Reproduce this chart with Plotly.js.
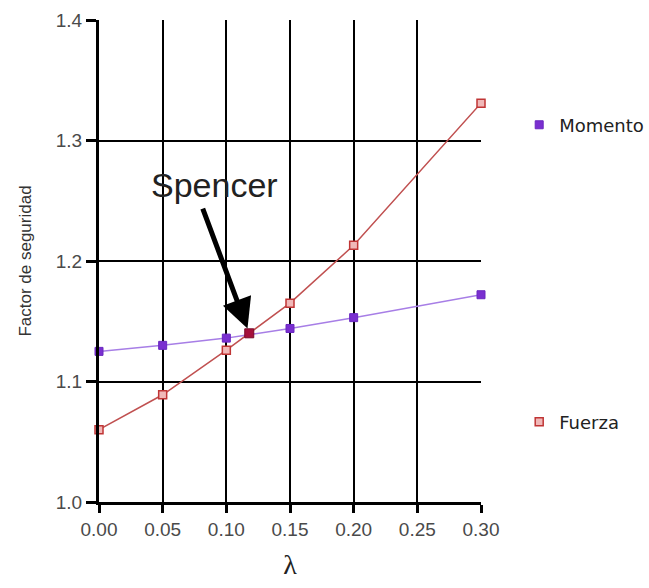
<!DOCTYPE html>
<html>
<head>
<meta charset="utf-8">
<script src="https://cdn.plot.ly/plotly-3.0.1.min.js"></script>
<style>html,body{margin:0;padding:0;background:#fff;}#chart{width:649px;height:588px;}</style>
</head>
<body>
<div id="chart"></div>
<script>
const lambdaValues = [0.00, 0.05, 0.10, 0.15, 0.20, 0.30];
const momentoFS = [1.125, 1.130, 1.136, 1.144, 1.153, 1.172];
const fuerzaFS = [1.060, 1.089, 1.126, 1.165, 1.213, 1.331];
const spencerLambda = [0.118];
const spencerFS = [1.140];
const xTickVals = [0.00, 0.05, 0.10, 0.15, 0.20, 0.25, 0.30];
const xTickText = ['0.00', '0.05', '0.10', '0.15', '0.20', '0.25', '0.30'];
const yTickVals = [1.0, 1.1, 1.2, 1.3, 1.4];
const yTickText = ['1.0', '1.1', '1.2', '1.3', '1.4'];

const momentoMarker = {symbol: 'square', size: 8, color: '#7a2fd0', line: {color: '#6a28c0', width: 1}};
const fuerzaMarker = {symbol: 'square', size: 8, color: '#f0b8b8', line: {color: '#c03535', width: 1.5}};

const traces = [
  {x: lambdaValues, y: momentoFS, mode: 'lines+markers', name: 'Momento', showlegend: false, cliponaxis: false,
   line: {color: '#a77ee6', width: 1.5}, marker: momentoMarker},
  {x: lambdaValues, y: fuerzaFS, mode: 'lines+markers', name: 'Fuerza', showlegend: false, cliponaxis: false,
   line: {color: '#c05050', width: 1.5}, marker: fuerzaMarker},
  {x: spencerLambda, y: spencerFS, mode: 'markers', name: 'Spencer', showlegend: false, cliponaxis: false,
   marker: {symbol: 'square', size: 9, color: '#a5103c', line: {color: '#7a0a2a', width: 1}}},
  {x: [null], y: [null], mode: 'markers', name: 'Momento', legend: 'legend', marker: momentoMarker},
  {x: [null], y: [null], mode: 'markers', name: 'Fuerza', legend: 'legend2', marker: fuerzaMarker}
];

const layout = {
  width: 649, height: 588,
  margin: {l: 99, r: 168, t: 20, b: 86, autoexpand: false},
  paper_bgcolor: '#fff', plot_bgcolor: '#fff',
  font: {family: 'Liberation Sans, Arial, sans-serif', color: '#333', size: 15},
  xaxis: {
    range: [0, 0.30], tickvals: xTickVals, ticktext: xTickText,
    showgrid: true, gridcolor: '#000', gridwidth: 2,
    showline: true, linecolor: '#000', linewidth: 3,
    ticks: 'outside', ticklen: 8, tickwidth: 3, tickcolor: '#000',
    zeroline: false, tickfont: {size: 19, color: '#4a4a4a'},
    title: {text: 'λ', font: {family: 'Liberation Serif, Times New Roman, serif', size: 28, color: '#222'}, standoff: 16}
  },
  yaxis: {
    range: [1.0, 1.4], tickvals: yTickVals, ticktext: yTickText,
    showgrid: true, gridcolor: '#000', gridwidth: 2,
    showline: true, linecolor: '#000', linewidth: 3,
    ticks: 'outside', ticklen: 10, tickwidth: 3, tickcolor: '#000',
    zeroline: false, tickfont: {size: 19, color: '#4a4a4a'},
    title: {text: 'Factor de seguridad', font: {size: 17, color: '#333'}, standoff: 20}
  },
  legend: {x: 1.1, y: 0.782, xanchor: 'left', yanchor: 'middle', font: {family: 'DejaVu Sans, sans-serif', size: 18, color: '#222'}, bgcolor: 'rgba(0,0,0,0)'},
  legend2: {x: 1.1, y: 0.166, xanchor: 'left', yanchor: 'middle', font: {family: 'DejaVu Sans, sans-serif', size: 18, color: '#222'}, bgcolor: 'rgba(0,0,0,0)'},
  annotations: [
    {
      x: spencerLambda[0], y: spencerFS[0], xref: 'x', yref: 'y',
      text: ' ', showarrow: true, ax: -50, ay: -134,
      arrowhead: 2, arrowsize: 1.2, arrowwidth: 5, arrowcolor: '#000', standoff: 5
    },
    {
      x: spencerLambda[0], y: spencerFS[0], xref: 'x', yref: 'y',
      text: 'Spencer', showarrow: false, xshift: -35, yshift: 148,
      font: {size: 34, color: '#222', family: 'Liberation Sans, Arial, sans-serif'}
    }
  ],
  showlegend: true
};

Plotly.newPlot('chart', traces, layout, {displayModeBar: false, staticPlot: true});
</script>
</body>
</html>
